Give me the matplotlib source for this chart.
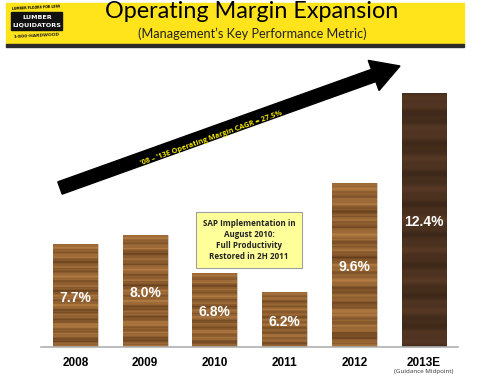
import numpy as np
import matplotlib
matplotlib.use('Agg')
import matplotlib.pyplot as plt
import matplotlib.patches as mpatches

# chart data
years = ['2008', '2009', '2010', '2011', '2012', '2013E']
margins = [7.7, 8.0, 6.8, 6.2, 9.6, 12.4]
labels = ['7.7%', '8.0%', '6.8%', '6.2%', '9.6%', '12.4%']

title = 'Operating Margin Expansion'
subtitle = '(Management\u2019s Key Performance Metric)'
arrow_text = '\u201908 \u2013 \u201913E Operating Margin CAGR = 27.5%'
box_text = 'SAP Implementation in\nAugust 2010:\nFull Productivity\nRestored in 2H 2011'

W, H = 480, 380
fig = plt.figure(figsize=(4.8, 3.8), dpi=100)
fig.patch.set_facecolor('white')


def px(x0, y0, x1, y1):
    # pixel box (top-left origin) -> figure fraction
    return [x0 / W, 1 - y1 / H, (x1 - x0) / W, (y1 - y0) / H]


# bar axes: baseline at y=347px, axis starts at 4.5
ax = fig.add_axes(px(41, 50, 458, 347))
ymin = 4.5
ax.set_ylim(ymin, ymin + 297 / 32.1)
ax.set_xlim(-0.495, 5.488)
for s in ['top', 'right', 'left']:
    ax.spines[s].set_visible(False)
ax.spines['bottom'].set_color('#b0b0b0')
ax.spines['bottom'].set_linewidth(1.2)
ax.set_yticks([])
ax.set_xticks(range(len(years)))
ax.set_xticklabels(years, fontsize=8.5, fontweight='bold', family='Liberation Sans')
ax.tick_params(axis='x', length=0, pad=7)

# wood grain texture (style only)
rows = np.arange(120)
grain = (0.55 + 0.22 * np.sin(rows * 0.55) + 0.15 * np.sin(rows * 1.7 + 1.0)
         + 0.12 * np.sin(rows * 0.21) + 0.08 * np.sin(rows * 3.1))
grain = np.clip(grain, 0, 1)[:, None] * np.ones((1, 20))
light = np.array([0.72, 0.50, 0.27])
dark = np.array([0.38, 0.23, 0.10])
wood = dark + (light - dark) * grain[..., None]
grain2 = np.clip(0.5 + 0.2 * np.sin(rows * 0.45) + 0.1 * np.sin(rows * 1.3), 0, 1)
grain2 = grain2[:, None] * np.ones((1, 20))
wood_dark = np.array([0.20, 0.13, 0.08]) + np.array([0.18, 0.12, 0.08]) * grain2[..., None]

bars = ax.bar(range(len(years)), [m - ymin for m in margins], bottom=ymin,
              width=0.645, color='#8a5a2b', edgecolor='#d8d0c8', linewidth=0.6)
for i, b in enumerate(bars):
    x0, w = b.get_x(), b.get_width()
    img = wood_dark if i == len(years) - 1 else wood
    im = ax.imshow(img, extent=[x0, x0 + w, ymin, margins[i]],
                   aspect='auto', interpolation='bilinear', zorder=2)
    im.set_clip_path(b)

# value labels (white, inside bars)
label_y = [6.03, 6.18, 5.59, 5.28, 6.99, 8.39]
for i, lab in enumerate(labels):
    ax.text(i, label_y[i], lab, ha='center', va='center', color='white',
            fontsize=10, fontweight='bold', family='Liberation Sans', zorder=3)

# overlay in pixel coordinates
ov = fig.add_axes([0, 0, 1, 1], facecolor='none')
ov.set_xlim(0, W)
ov.set_ylim(H, 0)
ov.axis('off')

# header band
ov.add_patch(mpatches.Rectangle((6, 3), 458, 41, color='#ffe41c', zorder=1))
ov.add_patch(mpatches.Rectangle((6, 44), 458, 3, color='#2b2b2b', zorder=1))
ov.text(252, 12, title, ha='center', va='center', fontsize=16.8, family='Lato',
        color='black')
ov.text(252, 34, subtitle, ha='center', va='center', fontsize=9.2,
        family='Lato', color='#222222')

# logo
ov.text(36, 8, 'LUMBER FLOORS FOR LESS', ha='center', va='center', fontsize=2.3,
        color='black', rotation=3, fontweight='bold')
badge = mpatches.FancyBboxPatch((12, 13), 50, 17, boxstyle='round,pad=0.5',
                                color='#111111', zorder=2)
ov.add_patch(badge)
ov.text(37, 17.5, 'LUMBER', ha='center', va='center', fontsize=4.6,
        color='white', fontweight='bold', zorder=3)
ov.text(37, 25, 'LIQUIDATORS', ha='center', va='center', fontsize=4.6,
        color='white', fontweight='bold', zorder=3)
ov.text(36, 36, '1-800-HARDWOOD', ha='center', va='center', fontsize=3.2,
        color='#222222', fontweight='bold', rotation=3, zorder=3)

# CAGR arrow
ov.add_patch(mpatches.FancyArrow(60, 188, 340, -122, width=13, head_width=32,
                                 head_length=28, length_includes_head=True,
                                 color='black', zorder=3))
ang = np.degrees(np.arctan2(122, 340))
ov.text(211, 138, arrow_text, ha='center', va='center', rotation=ang,
        rotation_mode='anchor', fontsize=5.3, fontweight='bold',
        family='Open Sans', color='#f2e600', zorder=4)

# SAP note
ov.text(249, 240, box_text, ha='center', va='center', fontsize=5.8,
        fontweight='bold', family='Open Sans', color='#222222',
        linespacing=1.3, zorder=4,
        bbox=dict(boxstyle='square,pad=0.8', fc='#ffff99', ec='#a0a0a0', lw=0.8))

# guidance midpoint note under 2013E
ov.text(424, 372, '(Guidance Midpoint)', ha='center', va='center', fontsize=4.5,
        family='Open Sans', color='#333333')

fig.savefig('out.png', dpi=100)
